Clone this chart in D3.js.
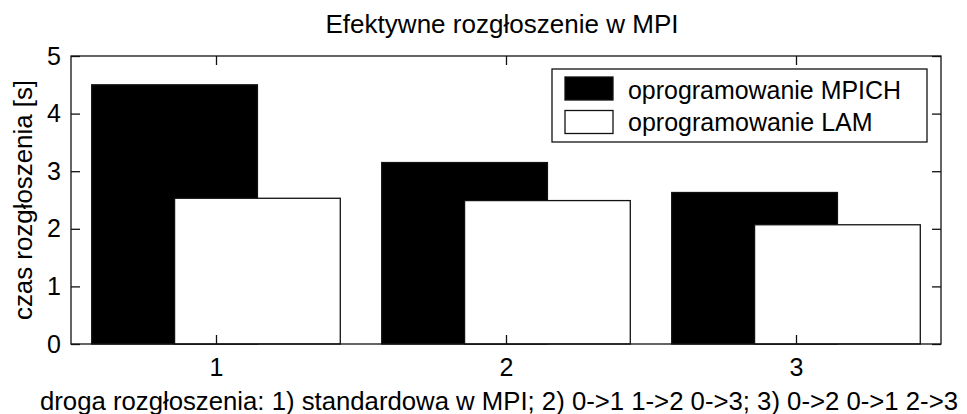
<!DOCTYPE html>
<html>
<head>
<meta charset="utf-8">
<script src="https://cdn.jsdelivr.net/npm/d3@7/dist/d3.min.js"></script>
<style>
  html, body { margin: 0; padding: 0; background: #fff; }
  svg { display: block; }
  text { font-family: "Liberation Sans", Arial, Helvetica, sans-serif; fill: #000; }
</style>
</head>
<body>
<svg id="chart" width="967" height="414"></svg>
<script>
// Broadcast time per routing variant, for two MPI implementations
const categories = [1, 2, 3];
const seriesNames = ["oprogramowanie MPICH", "oprogramowanie LAM"];
const mpichValues = [4.5, 3.15, 2.63];
const lamValues = [2.53, 2.49, 2.07];
const yTicks = [0, 1, 2, 3, 4, 5];
const titleText = "Efektywne rozgłoszenie w MPI";
const xLabelText = "droga rozgłoszenia: 1) standardowa w MPI; 2) 0->1 1->2 0->3; 3) 0->2 0->1 2->3";
const yLabelText = "czas rozgłoszenia [s]";

const svg = d3.select("#chart");
const plot = { left: 71, right: 941, top: 56, bottom: 344 };
const fontSize = 25;

const x = d3.scaleLinear().domain([0.5, 3.5]).range([plot.left, plot.right]);
const y = d3.scaleLinear().domain([0, 5]).range([plot.bottom, plot.top]);

// grouped bars: two series, each 4/7 wide, centred at ±1/7 around the category
const barWidth = 4 / 7;
const offsets = [-1 / 7, 1 / 7];
const series = [
  { values: mpichValues, fill: "#000" },
  { values: lamValues, fill: "#fff" }
];

series.forEach((s, si) => {
  svg.append("g")
    .selectAll("rect")
    .data(categories.map((c, i) => ({ c, v: s.values[i] })))
    .join("rect")
    .attr("x", d => x(d.c + offsets[si] - barWidth / 2))
    .attr("width", d => x(d.c + offsets[si] + barWidth / 2) - x(d.c + offsets[si] - barWidth / 2))
    .attr("y", d => y(d.v))
    .attr("height", d => y(0) - y(d.v))
    .attr("fill", s.fill)
    .attr("stroke", "#111")
    .attr("stroke-width", 1.3);
});

// axes frame with inward ticks on all four sides
const tickLen = 9;
const axisStyle = g => {
  g.select(".domain").remove();
  g.selectAll("line").attr("stroke", "#111").attr("stroke-width", 1.3);
  g.selectAll("text").attr("font-size", fontSize).attr("font-family", "Liberation Sans, Arial, sans-serif");
};

svg.append("g")
  .attr("transform", `translate(0,${plot.bottom})`)
  .call(d3.axisBottom(x).tickValues(categories).tickFormat(d3.format("d"))
    .tickSizeInner(-tickLen).tickSizeOuter(0).tickPadding(14))
  .call(axisStyle);

svg.append("g")
  .attr("transform", `translate(0,${plot.top})`)
  .call(d3.axisTop(x).tickValues(categories).tickFormat("")
    .tickSizeInner(-tickLen).tickSizeOuter(0))
  .call(axisStyle);

svg.append("g")
  .attr("transform", `translate(${plot.left},0)`)
  .call(d3.axisLeft(y).tickValues(yTicks).tickFormat(d3.format("d"))
    .tickSizeInner(-tickLen).tickSizeOuter(0).tickPadding(10))
  .call(axisStyle);

svg.append("g")
  .attr("transform", `translate(${plot.right},0)`)
  .call(d3.axisRight(y).tickValues(yTicks).tickFormat("")
    .tickSizeInner(-tickLen).tickSizeOuter(0))
  .call(axisStyle);

svg.append("rect")
  .attr("x", plot.left).attr("y", plot.top)
  .attr("width", plot.right - plot.left).attr("height", plot.bottom - plot.top)
  .attr("fill", "none").attr("stroke", "#111").attr("stroke-width", 1.3);

// title and axis labels
svg.append("text")
  .attr("x", (plot.left + plot.right) / 2 - 4).attr("y", 33)
  .attr("text-anchor", "middle").attr("font-size", fontSize)
  .attr("textLength", 353).attr("lengthAdjust", "spacingAndGlyphs")
  .text(titleText);

svg.append("text")
  .attr("x", 499).attr("y", 410)
  .attr("text-anchor", "middle").attr("font-size", fontSize)
  .attr("textLength", 918).attr("lengthAdjust", "spacingAndGlyphs")
  .text(xLabelText);

svg.append("text")
  .attr("transform", `translate(32,${(plot.top + plot.bottom) / 2}) rotate(-90)`)
  .attr("text-anchor", "middle").attr("font-size", fontSize)
  .attr("textLength", 240).attr("lengthAdjust", "spacingAndGlyphs")
  .text(yLabelText);

// legend
const legend = svg.append("g");
legend.append("rect")
  .attr("x", 552).attr("y", 69).attr("width", 375).attr("height", 73)
  .attr("fill", "#fff").attr("stroke", "#111").attr("stroke-width", 1.3);

const legendRows = [
  { name: seriesNames[0], fill: "#000", top: 77, baseline: 99 },
  { name: seriesNames[1], fill: "#fff", top: 110.5, baseline: 130.5 }
];
legendRows.forEach(r => {
  legend.append("rect")
    .attr("x", 565).attr("y", r.top).attr("width", 48).attr("height", 23)
    .attr("fill", r.fill).attr("stroke", "#111").attr("stroke-width", 1.3);
  legend.append("text")
    .attr("x", 628).attr("y", r.baseline).attr("font-size", fontSize)
    .text(r.name);
});
legend.select("text").attr("textLength", 273).attr("lengthAdjust", "spacingAndGlyphs");
</script>
</body>
</html>
